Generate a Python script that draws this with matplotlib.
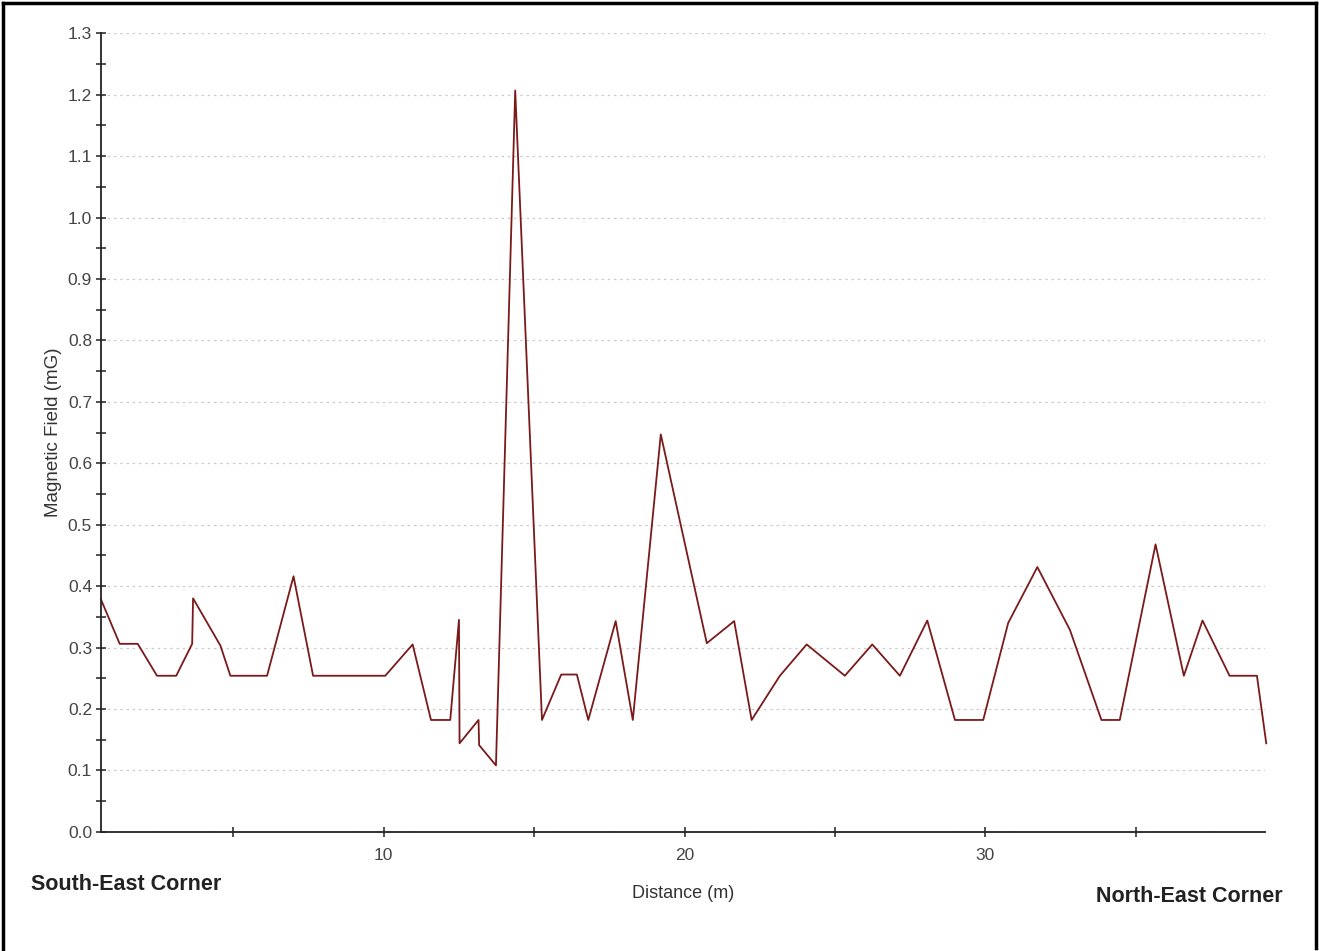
import numpy as np
import matplotlib
matplotlib.use("Agg")
import matplotlib.pyplot as plt
from matplotlib.lines import Line2D
from matplotlib.ticker import MultipleLocator, FixedLocator

plt.rcParams['font.family'] = ['Liberation Sans', 'DejaVu Sans']

# distance along the walk (m) and measured field (mG)
distance = [0.6, 1.22, 1.82, 2.46, 3.10, 3.63, 3.66, 4.57, 4.90, 6.12,
            7.00, 7.65, 10.05, 10.96, 11.57, 12.21, 12.50, 12.52, 13.15, 13.17,
            13.73, 14.37, 15.26, 15.90, 16.42, 16.80, 17.71, 18.28, 19.21, 20.74,
            21.65, 22.23, 23.17, 24.06, 25.33, 26.24, 27.16, 28.07, 28.99, 29.93,
            30.76, 31.73, 32.81, 33.86, 34.47, 35.66, 36.60, 37.22, 38.12, 39.03,
            39.34]
field = [0.378, 0.306, 0.306, 0.254, 0.254, 0.306, 0.380, 0.303, 0.254, 0.254,
         0.416, 0.254, 0.254, 0.305, 0.182, 0.182, 0.345, 0.144, 0.182, 0.141,
         0.108, 1.207, 0.182, 0.256, 0.256, 0.182, 0.343, 0.182, 0.647, 0.307,
         0.343, 0.182, 0.254, 0.305, 0.254, 0.305, 0.254, 0.344, 0.182, 0.182,
         0.340, 0.431, 0.329, 0.182, 0.182, 0.468, 0.254, 0.344, 0.254, 0.254,
         0.144]

x_labeled = [10, 20, 30]
x_minor = [5, 15, 25, 35]

fig = plt.figure(figsize=(13.19, 9.51), dpi=100)
ax = fig.add_axes([0.0766, 0.1254, 0.8825, 0.8395])

ax.plot(distance, field, color='#7a1a1a', lw=1.3, clip_on=False)

ax.set_xlim(0.6, 39.3)
ax.set_ylim(0, 1.3)

ax.yaxis.set_major_locator(MultipleLocator(0.1))
ax.yaxis.set_minor_locator(MultipleLocator(0.05))
ax.yaxis.set_major_formatter(plt.FormatStrFormatter('%.1f'))
ax.xaxis.set_major_locator(FixedLocator(x_labeled))
ax.xaxis.set_minor_locator(FixedLocator(x_minor))

ax.tick_params(which='both', direction='inout', length=7, width=1.1,
               color='#222222', labelsize=12.5, labelcolor='#444444')
ax.tick_params(axis='x', pad=8)
ax.tick_params(axis='y', pad=3)

for s in ['top', 'right']:
    ax.spines[s].set_visible(False)
for s in ['left', 'bottom']:
    ax.spines[s].set_linewidth(1.3)
    ax.spines[s].set_color('#222222')

ax.grid(axis='y', which='major', color='#cccccc', linestyle=(0, (2, 3)), lw=0.9)
ax.set_axisbelow(True)

ax.set_ylabel('Magnetic Field (mG)', fontsize=13.5, color='#333333', labelpad=4)
fig.text(683 / 1319, 1 - 893 / 951, 'Distance (m)', fontsize=13, color='#333333',
         ha='center', va='center')

fig.text(31 / 1319, 1 - 884 / 951, 'South-East Corner', fontsize=15.5, fontweight='bold',
         color='#222222', ha='left', va='center')
fig.text(1283 / 1319, 1 - 896 / 951, 'North-East Corner', fontsize=15.5, fontweight='bold',
         color='#222222', ha='right', va='center')

# frame around the picture
fr = dict(color='black', lw=2.5, transform=fig.transFigure)
fig.add_artist(Line2D([3 / 1319, 3 / 1319], [0, 1 - 3 / 951], **fr))
fig.add_artist(Line2D([3 / 1319, 1316 / 1319], [1 - 3 / 951, 1 - 3 / 951], **fr))
fig.add_artist(Line2D([1316 / 1319, 1316 / 1319], [1 - 3 / 951, 1 - 948 / 951], **fr))

fig.savefig('out.png', dpi=100)
